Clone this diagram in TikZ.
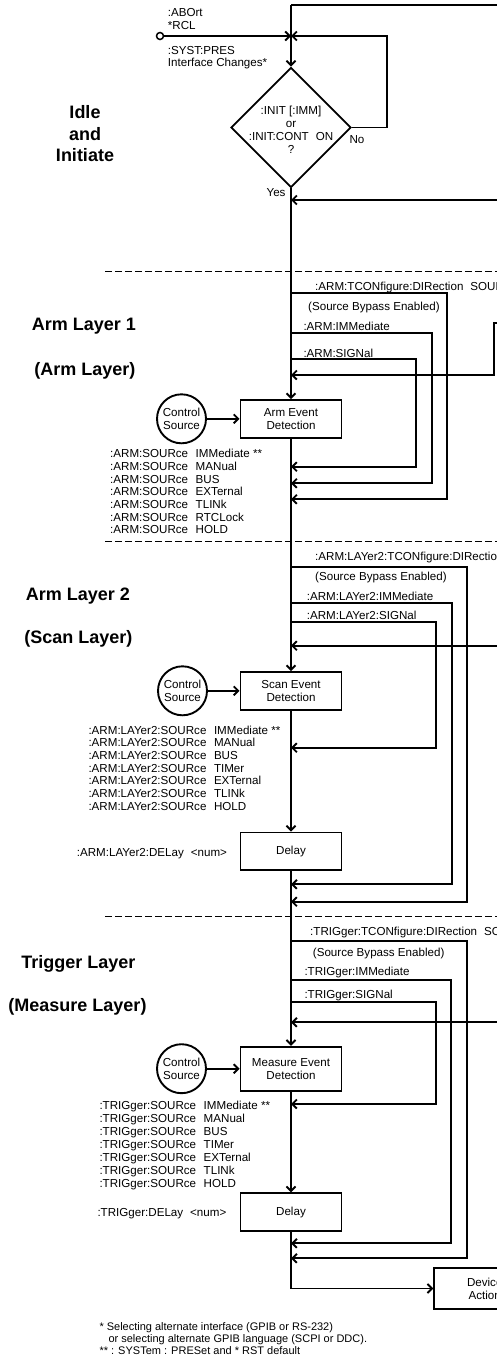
\documentclass[tikz,border=0pt]{standalone}
\usepackage{fontspec}
\setmainfont{Liberation Sans}
\usetikzlibrary{shapes,calc,arrows.meta,positioning}

\begin{document}
\begin{tikzpicture}[x=1pt,y=-1pt,
    wire/.style={line width=1.9pt},
    flow/.style={line width=1.9pt,-{Straight Barb[length=4.5pt,width=9pt]}},
    blk/.style={draw,line width=1.9pt,minimum width=101pt,minimum height=37.5pt,inner sep=0pt,align=center,font=\fontsize{11.6}{13}\selectfont},
    ctl/.style={draw,circle,line width=1.9pt,minimum size=49pt,inner sep=0pt,align=center,font=\fontsize{11.6}{13}\selectfont},
    lbl/.style={inner sep=0pt,anchor=base west,font=\fontsize{11.6}{13}\selectfont},
    note/.style={inner sep=0pt,anchor=base west,font=\fontsize{11}{12}\selectfont},
    head/.style={inner sep=0pt,anchor=base,font=\bfseries\fontsize{18}{21.5}\selectfont},
    layersep/.style={line width=1.3pt,dash pattern=on 7.3pt off 2.7pt}]

\useasboundingbox (0,0) rectangle (497,1360);
\clip (0,0) rectangle (497,1360);

% Coordinates
\coordinate (topR) at (500,5);
\coordinate (top)  at (291,5);
\coordinate (jin)  at (291,36);
\coordinate (noup) at (387,36);
\coordinate (retR) at (500,200);
\coordinate (ret)  at (291,200);
\coordinate (a1o) at (291,293.3);
\coordinate (a2o) at (291,332.7);
\coordinate (a3o) at (291,359);
\coordinate (a3i) at (291,466.7);
\coordinate (a2i) at (291,483.3);
\coordinate (a1i) at (291,499.3);
\coordinate (extA)  at (500,323.3);
\coordinate (extAi) at (291,375);
\coordinate (b1o) at (291,566.7);
\coordinate (b2o) at (291,603.3);
\coordinate (b3o) at (291,621.7);
\coordinate (b3i) at (291,747.7);
\coordinate (b2i) at (291,884.3);
\coordinate (b1i) at (291,901.7);
\coordinate (extB)  at (500,645.7);
\coordinate (extBi) at (291,645.7);
\coordinate (c1o) at (291,941);
\coordinate (c2o) at (291,980);
\coordinate (c3o) at (291,1001.7);
\coordinate (c3i) at (291,1104);
\coordinate (c2i) at (291,1243.3);
\coordinate (c1i) at (291,1258.3);
\coordinate (extC)  at (500,1022.3);
\coordinate (extCi) at (291,1022.3);

% Layer borders
\foreach \y in {271.7,541.7,916.7}
  \draw[layersep] (105,\y) -- (500,\y);

% Idle and initiate
\node[draw,circle,line width=1.5pt,minimum size=7pt,inner sep=0pt] (start) at (160,36) {};
\node[draw,diamond,line width=1.9pt,minimum width=120pt,minimum height=120pt,inner sep=0pt] (init) at (291,127.5) {};
\node[lbl,anchor=center,align=center] (initq) at (291,129.6) {:INIT [:IMM]\\or\\:INIT:CONT\hspace{0.6em}ON\\?};
\draw[wire] (topR) -- (top);
\draw[flow] (top) -- (init.north);
\draw[flow] (start) -- (jin);
\draw[flow] (init.east) -| (noup) -- (jin);
\draw[flow] (retR) -- (ret);
\node[lbl] (abort) at (167.7,16.3) {:ABOrt};
\node[lbl] (rcl) at (167.7,29.3) {*RCL};
\node[lbl] (syst) at (167.7,54.3) {:SYST:PRES};
\node[lbl] (ifc) at (167.7,66.3) {Interface Changes*};
\node[lbl] (no) at (349.3,143.3) {No};
\node[lbl,anchor=base east] (yes) at (285.7,196) {Yes};
\node[head,align=center,anchor=center] (idle) at (85,134) {Idle\\and\\Initiate};

% Arm layer 1
\node[blk] (armdet) at (291,418.8) {Arm Event\\Detection};
\node[ctl] (csrc1) at (181.5,418.8) {Control\\Source};
\draw[flow] (init.south) -- (armdet.north);
\draw[flow] (csrc1) -- (armdet);
\draw[flow] (a1o) -- ++(155.7,0) |- (a1i);
\draw[flow] (a2o) -- ++(141.3,0) |- (a2i);
\draw[flow] (a3o) -- ++(125,0) |- (a3i);
\draw[flow] (extA) -- ++(-5.7,0) |- (extAi);
\node[head] (arm1) at (84,330.7) {Arm Layer 1};
\node[head] (arm1b) at (85,375) {(Arm Layer)};
\node[lbl] (a1dir) at (315,290.3) {:ARM:TCONfigure:DIRection\hspace{0.6em}SOURce};
\node[lbl] (a1byp) at (308,310) {(Source Bypass Enabled)};
\node[lbl] (a1imm) at (303.3,330.3) {:ARM:IMMediate};
\node[lbl] (a1sig) at (303.3,357.6) {:ARM:SIGNal};
\foreach \s [count=\i] in {IMMediate **,MANual,BUS,EXTernal,TLINk,RTCLock,HOLD}
  \node[lbl] (asrc\i) at (110,{457.6+12.7*(\i-1)}) {:ARM:SOURce\hspace{0.65em}\s};

% Arm layer 2
\node[blk] (scandet) at (291,690.8) {Scan Event\\Detection};
\node[ctl] (csrc2) at (182.5,690.8) {Control\\Source};
\node[blk] (armdly) at (291,851.2) {Delay};
\draw[flow] (armdet.south) -- (scandet.north);
\draw[flow] (csrc2) -- (scandet);
\draw[flow] (scandet.south) -- (armdly.north);
\draw[flow] (b1o) -- ++(175.7,0) |- (b1i);
\draw[flow] (b2o) -- ++(160.7,0) |- (b2i);
\draw[flow] (b3o) -- ++(145,0) |- (b3i);
\draw[flow] (extB) -- (extBi);
\node[head] (arm2) at (78,600) {Arm Layer 2};
\node[head] (arm2b) at (78.3,643.3) {(Scan Layer)};
\node[lbl] (a2dir) at (315,560) {:ARM:LAYer2:TCONfigure:DIRection\hspace{0.6em}SOURce};
\node[lbl] (a2byp) at (315,580.3) {(Source Bypass Enabled)};
\node[lbl] (a2imm) at (306.7,600) {:ARM:LAYer2:IMMediate};
\node[lbl] (a2sig) at (306.7,619.3) {:ARM:LAYer2:SIGNal};
\foreach \s [count=\i] in {IMMediate **,MANual,BUS,TIMer,EXTernal,TLINk,HOLD}
  \node[lbl] (ssrc\i) at (88.3,{734.3+12.63*(\i-1)}) {:ARM:LAYer2:SOURce\hspace{0.65em}\s};
\node[lbl] (a2dly) at (76.7,856.6) {:ARM:LAYer2:DELay\hspace{0.6em}<num>};

% Trigger layer
\node[blk,minimum height=44pt] (measdet) at (291,1068.7) {Measure Event\\Detection};
\node[ctl] (csrc3) at (181.5,1068.7) {Control\\Source};
\node[blk] (trigdly) at (291,1212) {Delay};
\node[blk,minimum height=41.6pt,anchor=west] (devact) at (433.3,1288.5) {Device\\Action};
\draw[flow] (armdly.south) -- (measdet.north);
\draw[flow] (csrc3) -- (measdet);
\draw[flow] (measdet.south) -- (trigdly.north);
\draw[flow] (trigdly.south) |- (devact.west);
\draw[flow] (c1o) -- ++(175.7,0) |- (c1i);
\draw[flow] (c2o) -- ++(160,0) |- (c2i);
\draw[flow] (c3o) -- ++(144.7,0) |- (c3i);
\draw[flow] (extC) -- (extCi);
\node[head] (trg) at (78.3,968.3) {Trigger Layer};
\node[head] (trgb) at (77.5,1011.7) {(Measure Layer)};
\node[lbl] (tdir) at (310,935.5) {:TRIGger:TCONfigure:DIRection\hspace{0.6em}SOURce};
\node[lbl] (tbyp) at (312.7,956.6) {(Source Bypass Enabled)};
\node[lbl] (timm) at (304.3,975.3) {:TRIGger:IMMediate};
\node[lbl] (tsig) at (304.3,998.3) {:TRIGger:SIGNal};
\foreach \s [count=\i] in {IMMediate **,MANual,BUS,TIMer,EXTernal,TLINk,HOLD}
  \node[lbl] (tsrc\i) at (99.3,{1109.3+12.95*(\i-1)}) {:TRIGger:SOURce\hspace{0.65em}\s};
\node[lbl] (tdly) at (97.3,1216.6) {:TRIGger:DELay\hspace{0.6em}<num>};

% Notes
\node[note] (fn1) at (99.3,1330.5) {* Selecting alternate interface (GPIB or RS-232)};
\node[note] (fn2) at (108.3,1342.5) {or selecting alternate GPIB language (SCPI or DDC).};
\node[note] (fn3) at (99.3,1354.8) {** : SYSTem : PRESet and * RST default};
\end{tikzpicture}
\end{document}
